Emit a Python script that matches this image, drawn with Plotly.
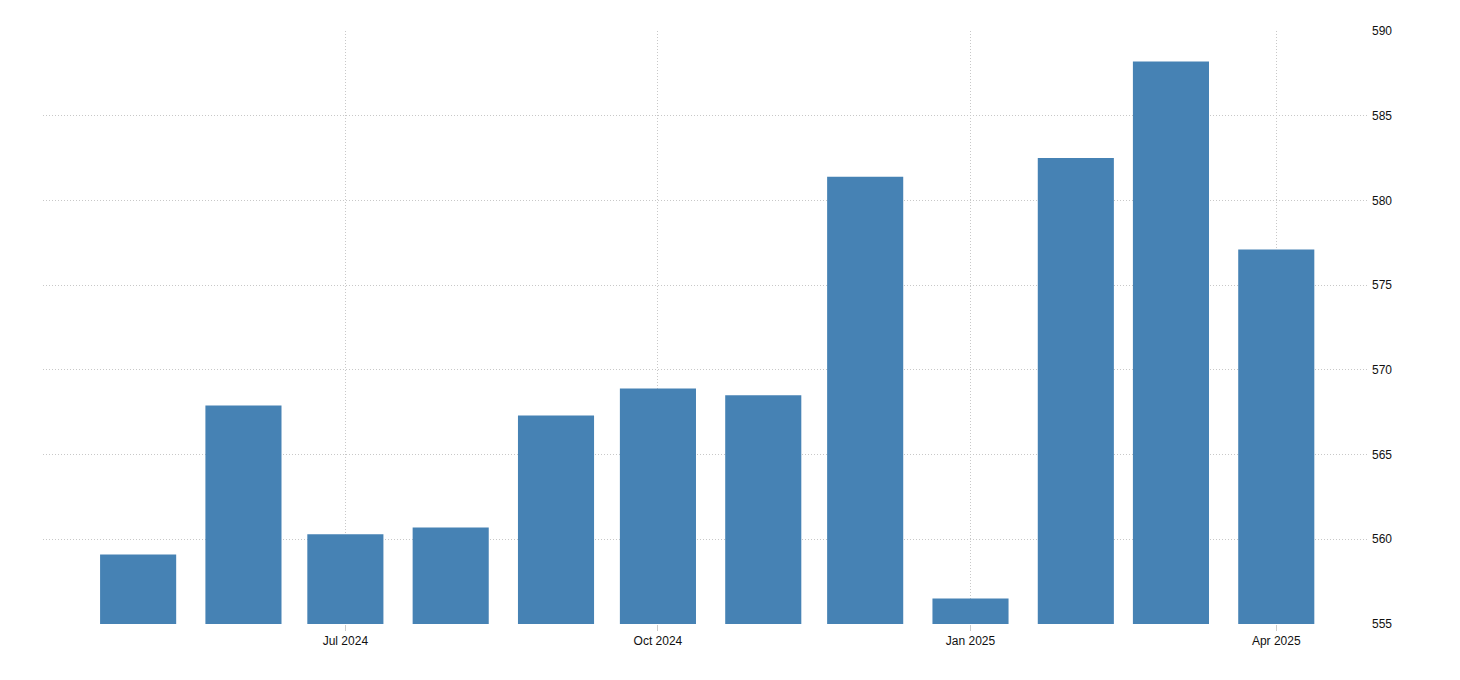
import plotly.graph_objects as go

months = ["2024-05-01", "2024-06-01", "2024-07-01", "2024-08-01", "2024-09-01", "2024-10-01",
          "2024-11-01", "2024-12-01", "2025-01-01", "2025-02-01", "2025-03-01", "2025-04-01"]
values = [559.1, 567.9, 560.3, 560.7, 567.3, 568.9, 568.5, 581.4, 556.5, 582.5, 588.2, 577.1]
y_ticks = [555, 560, 565, 570, 575, 580, 585, 590]
x_tickvals = ["2024-07-01", "2024-10-01", "2025-01-01", "2025-04-01"]
x_ticktext = ["Jul 2024", "Oct 2024", "Jan 2025", "Apr 2025"]

bar_width_ms = 22.4 * 24 * 3600 * 1000

fig = go.Figure(go.Bar(
    x=months, y=values,
    marker=dict(color="#4682B4", line=dict(width=0)),
    width=[bar_width_ms] * len(months),
))

fig.update_layout(
    width=1452, height=672,
    margin=dict(l=35, r=92, t=23, b=56),
    paper_bgcolor="white", plot_bgcolor="white",
    showlegend=False,
    font=dict(family="Liberation Sans", size=12, color="#111111"),
    xaxis=dict(
        type="date",
        range=["2024-04-03", "2025-04-28"],
        tickmode="array",
        tickvals=x_tickvals,
        ticktext=x_ticktext,
        showgrid=True, gridcolor="#c8c8c8", griddash="1px,2px", gridwidth=1,
        ticks="outside", ticklen=6, tickcolor="#cccccc",
        showline=False, zeroline=False,
    ),
    yaxis=dict(
        side="right",
        range=[555, 590],
        tickvals=y_ticks,
        showgrid=True, gridcolor="#c8c8c8", griddash="1px,2px", gridwidth=1,
        ticks="", showline=False, zeroline=False,
        ticklabelstandoff=3,
    ),
)

fig.write_html("out.html")
